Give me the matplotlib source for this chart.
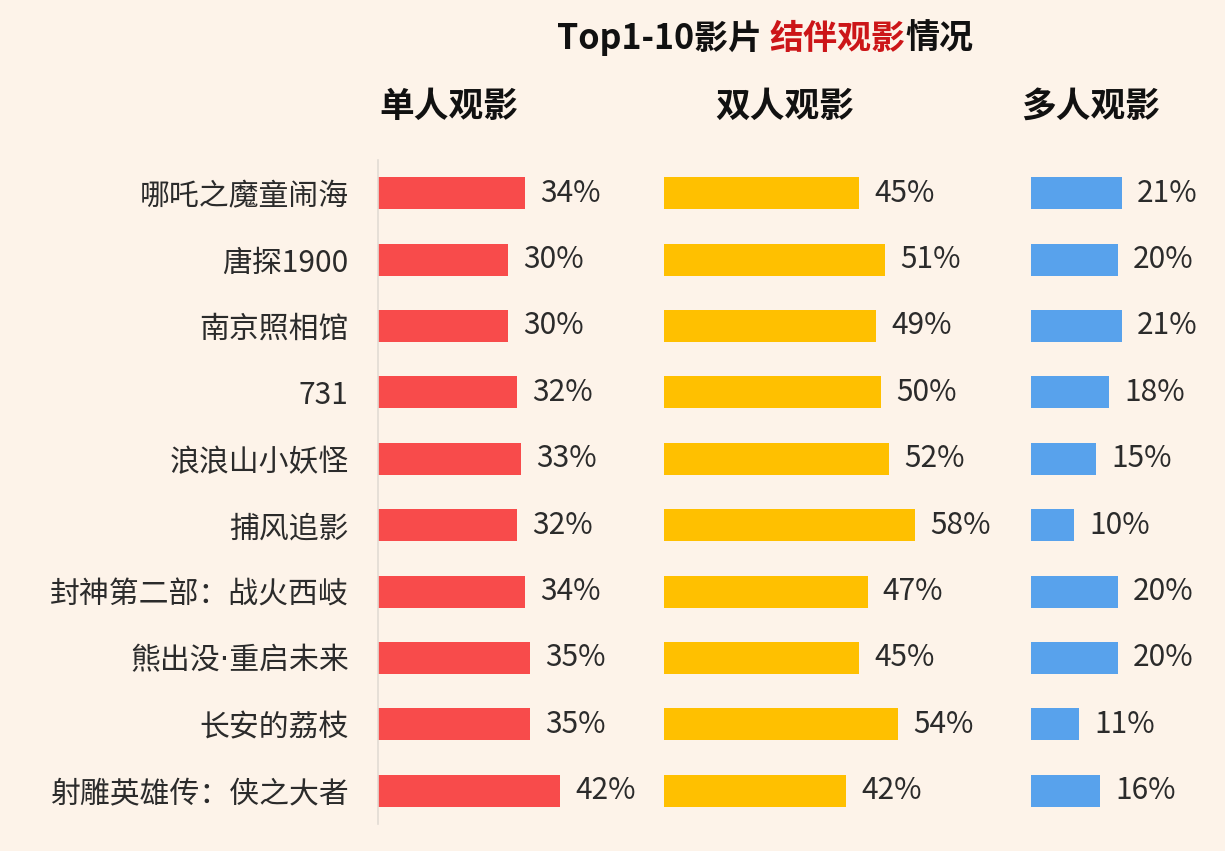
import matplotlib
matplotlib.use("Agg")
import matplotlib.pyplot as plt

plt.rcParams['font.family'] = ['Noto Sans CJK SC', 'DejaVu Sans']

# data
films = ["哪吒之魔童闹海", "唐探1900", "南京照相馆", "731", "浪浪山小妖怪",
         "捕风追影", "封神第二部：战火西岐", "熊出没·重启未来", "长安的荔枝",
         "射雕英雄传：侠之大者"]
single = [34, 30, 30, 32, 33, 32, 34, 35, 35, 42]
double = [45, 51, 49, 50, 52, 58, 47, 45, 54, 42]
multi = [21, 20, 21, 18, 15, 10, 20, 20, 11, 16]
headers = ["单人观影", "双人观影", "多人观影"]

bg = "#FDF3E9"
colors = ["#F84B4B", "#FFC000", "#58A2EC"]
text_color = "#2b2b2b"

fig = plt.figure(figsize=(12.25, 8.51), dpi=100, facecolor=bg)

W, H = 1225, 851
bottom = (H - 824) / H
height = 664 / H
# left pixel, xlim max  (same px-per-% scale in each panel)
panels = [(378, 60), (664, 75), (1031, 40)]
px_per_pct = 4.33

y = list(range(len(films)))
axes = []
for i, ((left_px, xmax), vals) in enumerate(zip(panels, [single, double, multi])):
    ax = fig.add_axes([left_px / W, bottom, xmax * px_per_pct / W, height])
    ax.set_facecolor(bg)
    ax.barh(y, vals, height=0.48, color=colors[i])
    ax.set_xlim(0, xmax)
    ax.set_ylim(len(films) - 0.5, -0.5)
    for yy, v in zip(y, vals):
        ax.annotate(f"{v}%", (v, yy), xytext=(11, 0), textcoords="offset points",
                    va="center", ha="left", fontsize=21.5, color=text_color)
    ax.set_xticks([])
    for s in ["top", "right", "bottom"]:
        ax.spines[s].set_visible(False)
    if i == 0:
        ax.spines["left"].set_color("#E2DCD4")
        ax.spines["left"].set_linewidth(1.2)
        ax.set_yticks(y)
        ax.set_yticklabels(films, fontsize=21.5, color=text_color)
        ax.tick_params(axis="y", length=0, pad=21)
        for lab in ax.get_yticklabels():
            if "·" in lab.get_text():
                # narrow middle dot like the original
                lab.set_fontfamily(["DejaVu Sans", "Noto Sans CJK SC"])
    else:
        ax.spines["left"].set_visible(False)
        ax.set_yticks([])
    axes.append(ax)

# column headers
for hx, txt in zip([449, 785, 1091], headers):
    fig.text(hx / W, 1 - 106 / H, txt, ha="center", va="center",
             fontsize=25, fontweight="bold", color="#111111")

# title with a red middle part
renderer = fig.canvas.get_renderer()
parts = [("Top1-10影片 ", "#111111"), ("结伴观影", "#CC1518"), ("情况", "#111111")]
x0 = 557 / W
ty = 1 - 38 / H
for txt, c in parts:
    t = fig.text(x0, ty, txt, ha="left", va="center", fontsize=24.5,
                 fontweight="bold", color=c)
    bb = t.get_window_extent(renderer=renderer)
    x0 = bb.x1 / W

fig.savefig("out.png", dpi=100, facecolor=bg)
